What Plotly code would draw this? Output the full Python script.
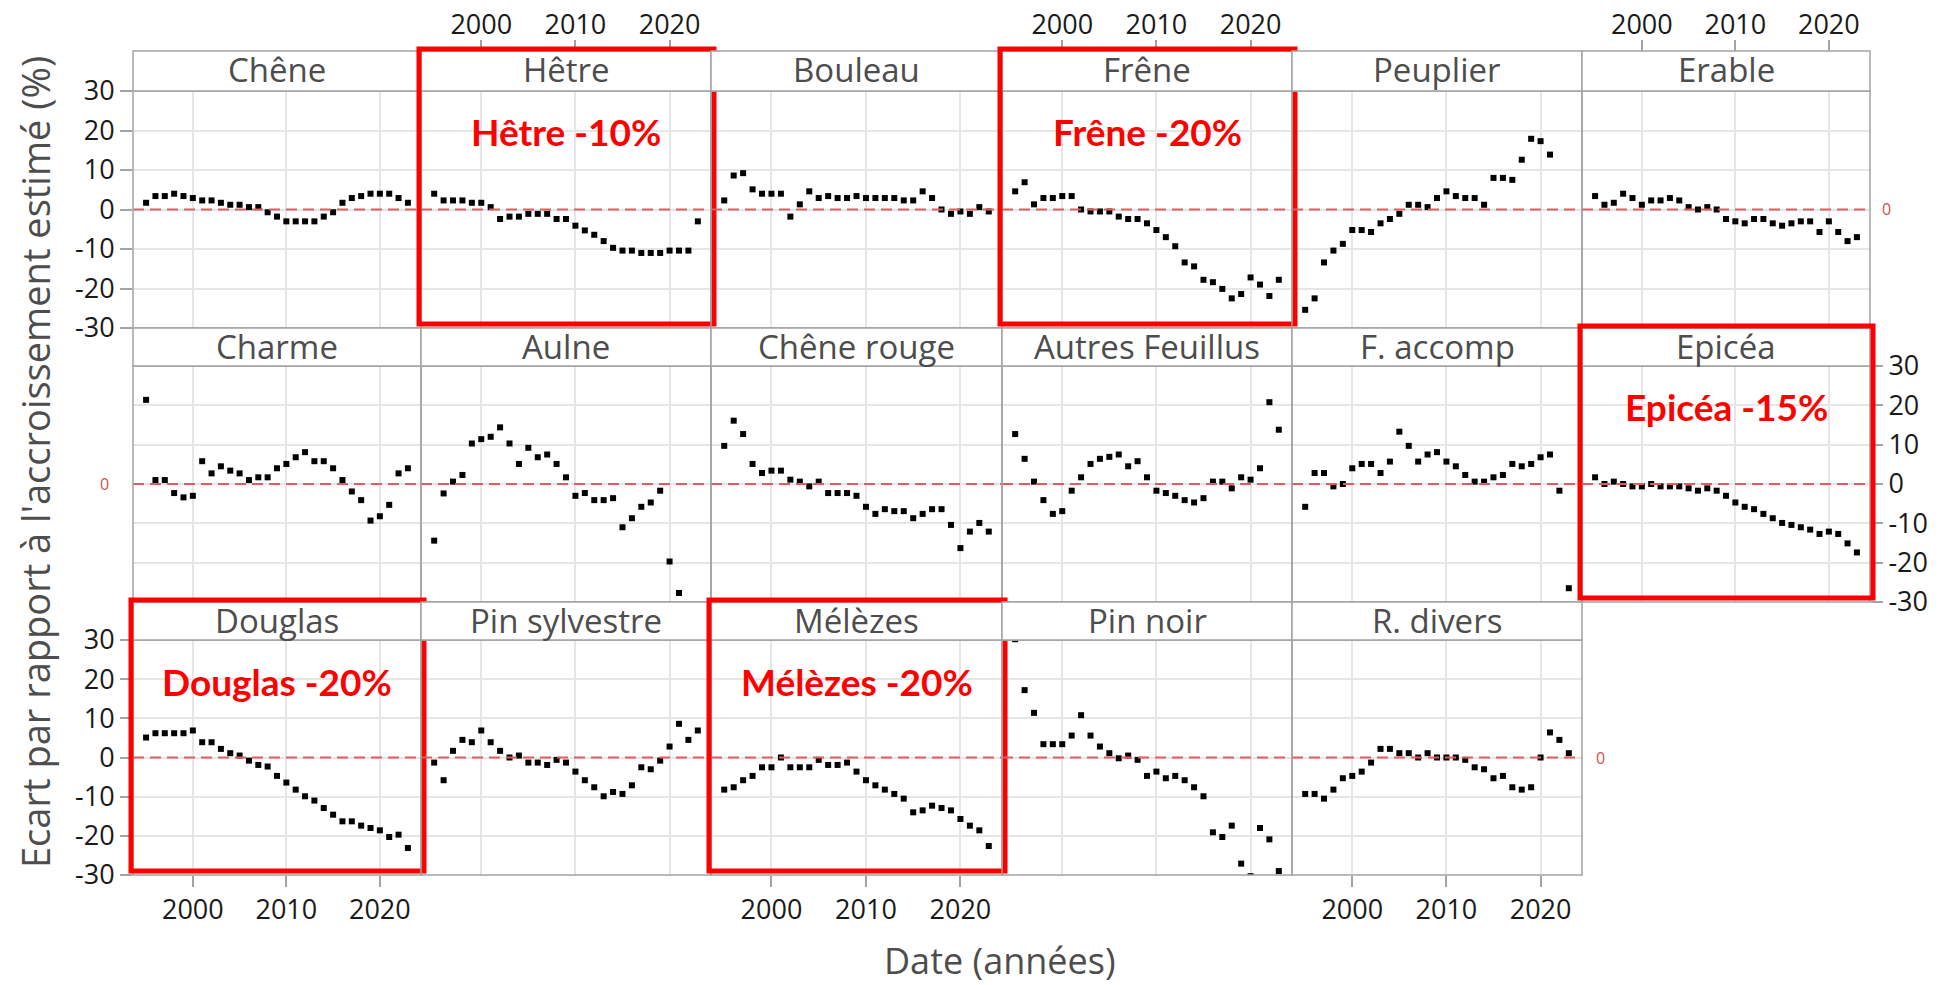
import plotly.graph_objects as go

# ---------------- data ----------------
YEARS = list(range(1995, 2024))

SPECIES = ["Chêne", "Hêtre", "Bouleau", "Frêne", "Peuplier", "Erable",
           "Charme", "Aulne", "Chêne rouge", "Autres Feuillus", "F. accomp", "Epicéa",
           "Douglas", "Pin sylvestre", "Mélèzes", "Pin noir", "R. divers"]

chene = [1.7, 3.4, 3.4, 4.0, 3.4, 2.9, 2.3, 2.3, 1.7, 1.2, 1.2, 0.6, 0.6, -0.7, -1.8,
         -3.0, -3.0, -3.0, -3.0, -1.8, -0.7, 1.7, 2.9, 3.4, 4.0, 4.0, 4.0, 2.9, 1.7]
hetre = [4.0, 2.3, 2.3, 2.3, 1.7, 1.7, 0.6, -2.4, -1.8, -1.8, -1.1, -1.1, -1.1, -2.4, -2.4,
         -4.1, -5.3, -6.4, -8.0, -9.7, -10.4, -10.4, -11.0, -11.0, -11.0, -10.4, -10.4, -10.4, -3.0]
bouleau = [2.3, 8.6, 9.2, 5.1, 4.0, 4.0, 4.0, -1.8, 1.3, 4.6, 2.9, 3.4, 2.9, 2.9, 3.4,
           2.9, 2.9, 2.9, 2.9, 2.3, 2.3, 4.6, 2.9, 0.0, -1.1, -0.5, -1.1, 0.6, -0.5]
frene = [4.6, 6.9, 1.3, 2.9, 2.9, 3.4, 3.4, 0.0, -0.5, -0.5, -0.5, -1.8, -2.4, -2.4, -3.5,
         -5.2, -7.0, -9.3, -13.4, -14.4, -17.8, -18.4, -20.1, -22.5, -21.4, -17.2, -19.0, -21.9, -17.8]
peuplier = [-25.4, -22.5, -13.4, -10.4, -8.7, -5.2, -5.2, -5.7, -3.5, -2.4, -1.1, 1.2, 1.2, 0.6,
            2.9, 4.6, 3.4, 2.9, 2.9, 1.2, 8.0, 8.0, 7.5, 12.6, 17.9, 17.3, 13.9]
erable = [3.4, 1.2, 1.7, 4.0, 2.9, 1.2, 2.3, 2.3, 2.9, 2.3, 0.6, 0.0, 0.6, 0.0, -2.4,
          -3.0, -3.5, -2.4, -2.4, -3.5, -4.1, -3.5, -3.0, -3.0, -5.7, -3.0, -5.7, -8.0, -7.0]
charme = [21.4, 1.0, 1.0, -2.3, -3.4, -3.0, 5.8, 2.7, 4.5, 3.4, 2.7, 1.0, 1.7, 1.7, 4.0,
          5.1, 6.8, 8.1, 5.8, 5.8, 4.0, 1.0, -1.9, -4.1, -9.3, -8.2, -5.3, 2.7, 4.0]
aulne = [-14.4, -2.4, 0.6, 2.3, 10.3, 11.4, 12.0, 14.4, 10.3, 5.1, 9.2, 6.8, 7.5, 5.1,
         1.7, -3.0, -2.3, -4.1, -4.1, -3.6, -11.0, -8.7, -5.8, -4.7, -1.7, -19.7, -27.7]
chene_rouge = [9.7, 16.1, 12.7, 5.1, 2.8, 3.4, 3.4, 1.1, 0.6, -0.6, 0.6, -2.3, -2.3, -2.3, -3.0,
               -5.8, -7.6, -6.4, -6.9, -6.9, -8.7, -7.6, -6.4, -6.4, -10.4, -16.3, -12.1, -9.9, -12.1]
autres_feuillus = [12.7, 6.4, 0.6, -4.1, -7.6, -6.9, -1.7, 1.7, 5.1, 6.4, 6.9, 7.5, 4.5, 5.8, 1.7,
                   -1.7, -2.3, -3.0, -4.1, -4.7, -3.6, 0.6, 0.6, -1.1, 1.7, 1.1, 4.0, 20.8, 13.8]
f_accomp = [-5.8, 2.8, 2.8, -0.6, 0.0, 4.0, 5.1, 5.1, 2.8, 5.7, 13.3, 9.7, 5.7, 7.5, 8.1,
            5.7, 4.5, 2.3, 0.6, 0.6, 1.7, 2.3, 5.1, 4.5, 5.1, 6.8, 7.5, -1.7, -26.5]
epicea = [1.7, 0.0, 0.6, 0.0, -0.6, -0.6, 0.0, -0.6, -0.6, -0.6, -1.1, -1.7, -1.1, -1.7, -3.0,
          -4.7, -5.8, -6.4, -7.6, -8.7, -9.9, -10.4, -11.0, -11.6, -12.7, -12.1, -12.7, -15.1, -17.4]
douglas = [5.1, 6.2, 6.2, 6.2, 6.2, 6.9, 3.9, 3.9, 2.2, 1.1, 0.5, -0.8, -1.9, -2.3, -4.7,
           -6.4, -8.2, -9.9, -11.0, -12.9, -14.6, -16.3, -16.3, -17.4, -18.0, -18.6, -20.3, -19.7, -23.1]
pin_sylvestre = [-1.3, -5.8, 1.7, 4.5, 3.9, 6.9, 3.9, 1.7, 0.0, 0.5, -1.3, -1.3, -1.9, -0.6, -1.3,
                 -3.6, -5.8, -7.6, -9.9, -8.8, -9.3, -7.1, -2.5, -3.0, -0.8, 2.8, 8.6, 4.5, 6.9]
melezes = [-8.2, -7.6, -5.8, -4.7, -2.5, -2.5, 0.0, -2.5, -2.5, -2.5, -0.6, -1.9, -1.9, -1.3, -3.6,
           -5.8, -7.1, -8.2, -9.3, -10.5, -14.0, -13.5, -12.3, -12.9, -13.5, -15.7, -17.4, -18.6, -22.6]
pin_noir = [30.2, 17.2, 11.4, 3.4, 3.4, 3.4, 5.6, 10.8, 5.6, 2.8, 1.1, -0.2, 0.5, -0.6, -4.7,
            -3.6, -5.3, -4.7, -5.8, -7.6, -9.9, -19.1, -20.3, -17.4, -27.1, -30.3, -18.0, -20.9, -29.0]
r_divers = [-9.3, -9.3, -10.5, -8.2, -5.3, -4.7, -3.6, -1.3, 2.2, 2.2, 1.1, 1.1, 0.0, 1.1, 0.0,
            0.0, 0.0, -0.6, -2.5, -3.0, -5.3, -4.7, -7.6, -8.2, -7.6, 0.0, 6.4, 4.5, 1.1]

SERIES = [chene, hetre, bouleau, frene, peuplier, erable,
          charme, aulne, chene_rouge, autres_feuillus, f_accomp, epicea,
          douglas, pin_sylvestre, melezes, pin_noir, r_divers]

X_TICKS = [2000, 2010, 2020]
Y_TICKS = [-30, -20, -10, 0, 10, 20, 30]
Y_TICK_TEXT = ["-30", "-20", "-10", "0", "10", "20", "30"]

HIGHLIGHTS = {"Hêtre": "Hêtre -10%", "Frêne": "Frêne -20%", "Epicéa": "Epicéa -15%",
              "Douglas": "Douglas -20%", "Mélèzes": "Mélèzes -20%"}

# ---------------- layout geometry ----------------
W, H = 1941, 985
COL_EDGES = [133, 421, 711, 1002, 1292, 1582, 1870]
ROWS = [(51, 91, 328), (328, 366, 602), (602, 640, 875)]  # strip top, panel top, panel bottom


def px(x):
    return x / W


def py(y):
    return 1 - y / H


GRID = "#e6e6e6"
BORDER = "#a3a3a3"
TICKFONT = dict(family="Open Sans", size=27, color="#1a1a1a")
STRIPFONT = dict(family="Open Sans", size=33, color="#4d4d4d")

fig = go.Figure()
shapes = []
annotations = []
layout = {}

for i, (name, vals) in enumerate(zip(SPECIES, SERIES)):
    r, c = divmod(i, 6)
    k = i + 1
    xa = "x" if k == 1 else f"x{k}"
    ya = "y" if k == 1 else f"y{k}"
    x0, x1 = COL_EDGES[c], COL_EDGES[c + 1]
    st, pt, pb = ROWS[r]

    fig.add_trace(go.Scatter(
        x=YEARS[:len(vals)], y=vals, mode="markers",
        marker=dict(symbol="square", size=6, color="black", line=dict(width=0)),
        xaxis=xa, yaxis=ya, showlegend=False, hoverinfo="skip"))

    xcfg = dict(domain=[px(x0), px(x1)], range=[1993.6, 2024.4], anchor=ya,
                tickvals=X_TICKS, showgrid=True, gridcolor=GRID, gridwidth=1.5,
                zeroline=False, showline=False, showticklabels=False, ticks="",
                tickfont=TICKFONT, tickcolor=BORDER, ticklen=11, tickwidth=1.5,
                fixedrange=True, automargin=False)
    if r == 0 and c in (1, 3, 5):
        xcfg.update(anchor="free", position=py(st), side="top",
                    showticklabels=True, ticks="outside", ticklabelstandoff=-5)
    if r == 2 and c in (0, 2, 4):
        xcfg.update(showticklabels=True, ticks="outside")

    ycfg = dict(domain=[py(pb), py(pt)], range=[-30, 30], anchor=xa,
                tickvals=Y_TICKS, ticktext=Y_TICK_TEXT, showgrid=True, gridcolor=GRID,
                gridwidth=1.5, zeroline=False, showline=False, showticklabels=False, ticks="",
                tickfont=TICKFONT, tickcolor=BORDER, ticklen=12, tickwidth=1.5,
                fixedrange=True, automargin=False)
    if k in (1, 13):
        ycfg.update(showticklabels=True, ticks="outside")
    if k == 12:
        ycfg.update(showticklabels=True, ticks="outside", side="right")

    layout["xaxis" if k == 1 else f"xaxis{k}"] = xcfg
    layout["yaxis" if k == 1 else f"yaxis{k}"] = ycfg

    # zero reference line
    shapes.append(dict(type="line", xref=f"{xa} domain", yref=ya, x0=0, x1=1, y0=0, y1=0,
                       line=dict(color="#e35b5e", width=1.8, dash="11px,6px"), layer="above"))
    # panel border
    shapes.append(dict(type="rect", xref="paper", yref="paper",
                       x0=px(x0), x1=px(x1), y0=py(pb), y1=py(pt),
                       line=dict(color=BORDER, width=1.5), layer="above"))
    # strip
    shapes.append(dict(type="rect", xref="paper", yref="paper",
                       x0=px(x0), x1=px(x1), y0=py(pt), y1=py(st),
                       line=dict(color=BORDER, width=1.5), fillcolor="white", layer="above"))
    annotations.append(dict(text=name, xref="paper", yref="paper",
                            x=px((x0 + x1) / 2), y=py((st + pt) / 2 - 1),
                            showarrow=False, font=STRIPFONT,
                            xanchor="center", yanchor="middle"))

    if name in HIGHLIGHTS:
        shapes.append(dict(type="rect", xref="paper", yref="paper",
                           x0=px(x0 - 2), x1=px(x1 + 3), y0=py(pb - 4), y1=py(st - 2),
                           line=dict(color="#ff0000", width=5), layer="above"))
        annotations.append(dict(text=f"<b>{HIGHLIGHTS[name]}</b>", xref="paper", yref="paper",
                                x=px((x0 + x1) / 2), y=py(pt + 41),
                                showarrow=False,
                                font=dict(family="Lato", size=37, color="#ff0000"),
                                xanchor="center", yanchor="middle"))

# small red "0" labels for the reference line
for (lx, ly, anchor) in [(1880, 209, "left"), (111, 484, "right"), (1594, 758, "left")]:
    annotations.append(dict(text="0", xref="paper", yref="paper", x=px(lx), y=py(ly),
                            showarrow=False, xanchor=anchor, yanchor="middle",
                            font=dict(family="Open Sans", size=16, color="#d05050")))

# axis titles
annotations.append(dict(text="Ecart par rapport à l'accroissement estimé (%)",
                        xref="paper", yref="paper", x=px(35), y=py(462), textangle=-90,
                        showarrow=False, xanchor="center", yanchor="middle",
                        font=dict(family="Open Sans", size=38, color="#4d4d4d")))
annotations.append(dict(text="Date (années)", xref="paper", yref="paper",
                        x=px(1000), y=py(960), showarrow=False,
                        xanchor="center", yanchor="middle",
                        font=dict(family="Open Sans", size=36, color="#4d4d4d")))

fig.update_layout(**layout)
fig.update_layout(template="none", width=W, height=H, autosize=False,
                  margin=dict(l=0, r=0, t=0, b=0, pad=0),
                  paper_bgcolor="white", plot_bgcolor="white",
                  shapes=shapes, annotations=annotations, showlegend=False)

fig.write_html("out.html", config={"displayModeBar": False},
               post_script="document.body.style.margin='0px';")
